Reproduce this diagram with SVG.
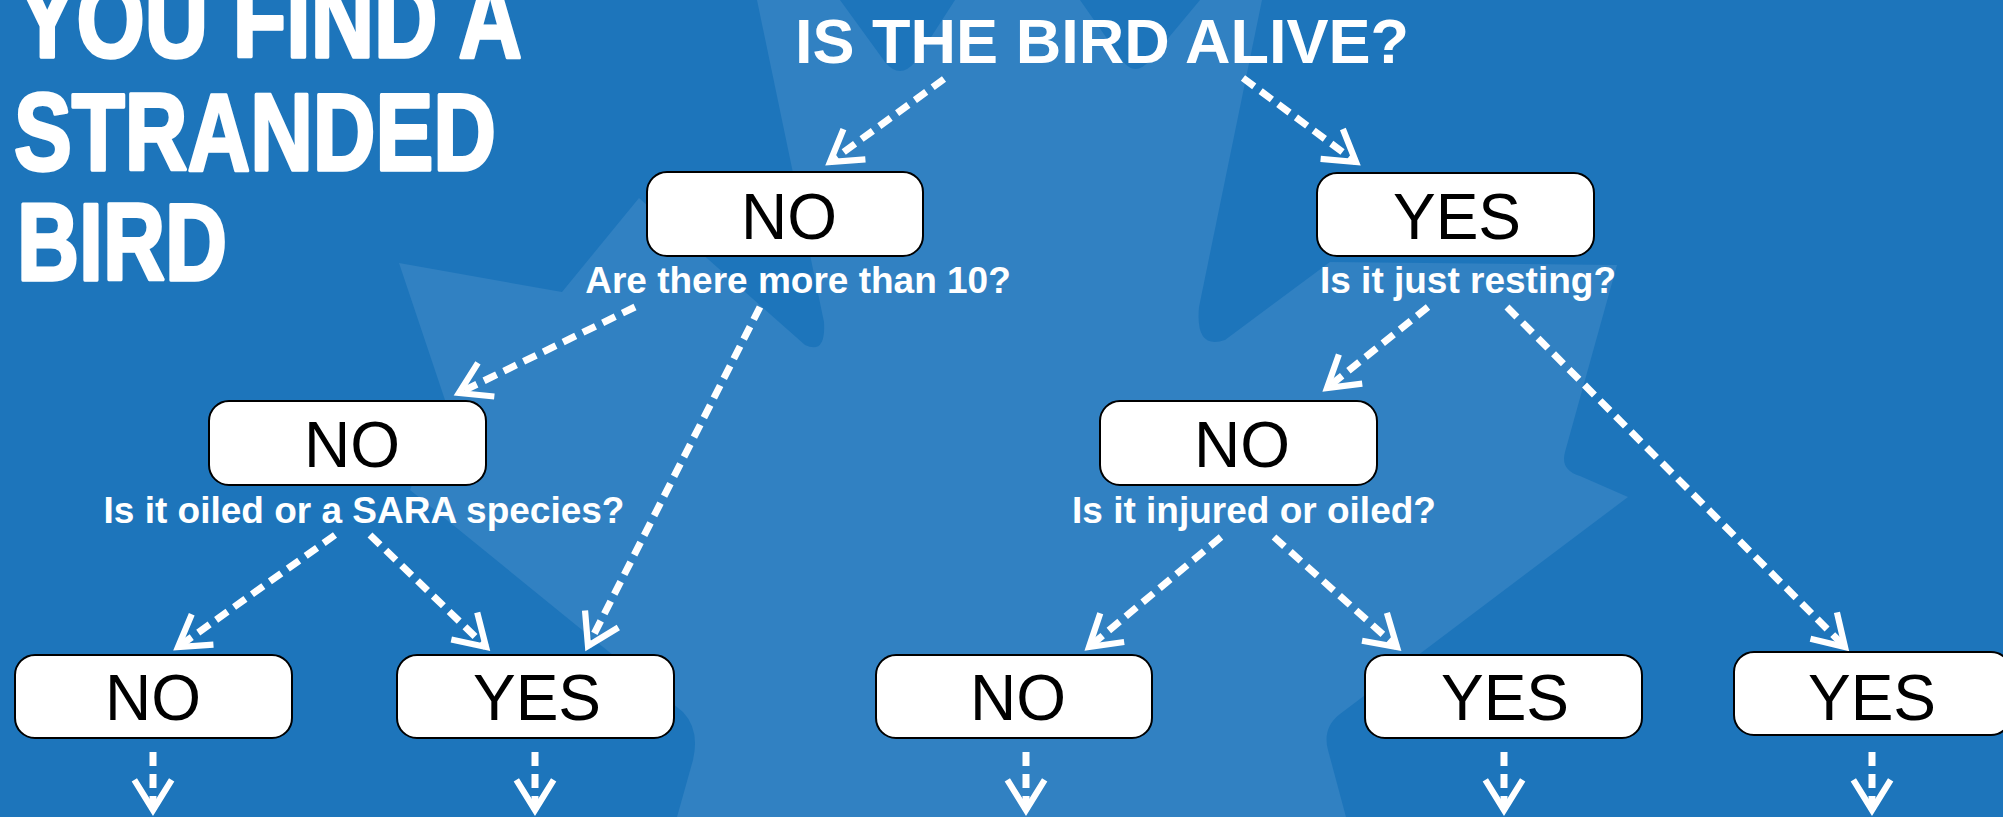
<svg xmlns="http://www.w3.org/2000/svg" width="2003" height="817" viewBox="0 0 2003 817">
<defs>
<style>
.box{fill:#fff;stroke:#000;stroke-width:2}
.bt{font-family:"Liberation Sans",Arial,sans-serif;font-size:64px;fill:#000;text-anchor:middle}
.lbl{font-family:"Liberation Sans",Arial,sans-serif;font-weight:bold;font-size:37px;fill:#fff;text-anchor:middle}
.big{font-family:"Liberation Sans Narrow","Liberation Sans",Arial,sans-serif;font-weight:bold;font-size:110px;fill:#fff;stroke:#fff;stroke-width:3.5;stroke-linejoin:round}
.dash{stroke:#fff;stroke-width:7;stroke-dasharray:14 8;fill:none}
</style>
<marker id="arr" markerUnits="userSpaceOnUse" orient="auto" refX="0" refY="0" markerWidth="80" markerHeight="80" viewBox="-45 -40 90 80" overflow="visible">
<path d="M-34,-21 L0,0 L-34,21" fill="none" stroke="#fff" stroke-width="7" stroke-dasharray="none"/>
</marker>
</defs>
<rect width="2003" height="817" fill="#1d75bb"/>
<path id="leaf" fill="#3181c2" d="M757,0 L840,0 L885,62 Q900,80 915,62 L955,0 L1080,0 L1122,60 Q1135,78 1150,60 L1200,0 L1262,0 L1199,307 Q1195,350 1225,340 L1330,262 L1617,265 L1565,452 Q1560,470 1580,476 L1628,497 L1340,714 Q1322,728 1328,750 L1346,817 L677,817 L693,760 Q700,730 683,712 L410,490 L445,400 L399,263 L562,292 L639,198 L805,345 Q826,355 824,322 Z"/>
<g id="heading">
<text class="big" x="18" y="57" textLength="504" lengthAdjust="spacingAndGlyphs">YOU FIND A</text>
<text class="big" x="14" y="170" textLength="482" lengthAdjust="spacingAndGlyphs">STRANDED</text>
<text class="big" x="17" y="280" textLength="210" lengthAdjust="spacingAndGlyphs">BIRD</text>
</g>
<g id="root">
<text x="795" y="63" textLength="614" lengthAdjust="spacingAndGlyphs" style="font-family:'Liberation Sans',Arial,sans-serif;font-weight:bold;font-size:63px;fill:#fff">IS THE BIRD ALIVE?</text>
</g>
<g id="connectors">
<line class="dash" x1="944" y1="79" x2="830" y2="162" marker-end="url(#arr)"/>
<line class="dash" x1="1243" y1="78" x2="1356" y2="162" marker-end="url(#arr)"/>
<line class="dash" x1="635" y1="307" x2="459" y2="393" marker-end="url(#arr)"/>
<line class="dash" x1="760" y1="307" x2="588" y2="646" marker-end="url(#arr)"/>
<line class="dash" x1="335" y1="535" x2="178" y2="647" marker-end="url(#arr)"/>
<line class="dash" x1="370" y1="535" x2="486" y2="647" marker-end="url(#arr)"/>
<line class="dash" x1="1428" y1="307" x2="1327" y2="388" marker-end="url(#arr)"/>
<line class="dash" x1="1507" y1="307" x2="1845" y2="647" marker-end="url(#arr)"/>
<line class="dash" x1="1221" y1="537" x2="1089" y2="647" marker-end="url(#arr)"/>
<line class="dash" x1="1274" y1="537" x2="1397" y2="647" marker-end="url(#arr)"/>
<line class="dash" x1="153" y1="752" x2="153" y2="810" marker-end="url(#arr)"/>
<line class="dash" x1="535" y1="752" x2="535" y2="810" marker-end="url(#arr)"/>
<line class="dash" x1="1026" y1="752" x2="1026" y2="810" marker-end="url(#arr)"/>
<line class="dash" x1="1504" y1="752" x2="1504" y2="810" marker-end="url(#arr)"/>
<line class="dash" x1="1872" y1="752" x2="1872" y2="810" marker-end="url(#arr)"/>
</g>
<g id="n1"><rect class="box" x="647" y="172" width="276" height="84" rx="20"/><text class="bt" x="789" y="239">NO</text><text class="lbl" x="798" y="293">Are there more than 10?</text></g>
<g id="n2"><rect class="box" x="1317" y="173" width="277" height="83" rx="20"/><text class="bt" x="1457" y="239">YES</text><text class="lbl" x="1468" y="293">Is it just resting?</text></g>
<g id="n3"><rect class="box" x="209" y="401" width="277" height="84" rx="20"/><text class="bt" x="352" y="467">NO</text><text class="lbl" x="364" y="523">Is it oiled or a SARA species?</text></g>
<g id="n4"><rect class="box" x="1100" y="401" width="277" height="84" rx="20"/><text class="bt" x="1242" y="467">NO</text><text class="lbl" x="1254" y="523">Is it injured or oiled?</text></g>
<g id="n5"><rect class="box" x="15" y="655" width="277" height="83" rx="20"/><text class="bt" x="153" y="720">NO</text></g>
<g id="n6"><rect class="box" x="397" y="655" width="277" height="83" rx="20"/><text class="bt" x="537" y="720">YES</text></g>
<g id="n7"><rect class="box" x="876" y="655" width="276" height="83" rx="20"/><text class="bt" x="1018" y="720">NO</text></g>
<g id="n8"><rect class="box" x="1365" y="655" width="277" height="83" rx="20"/><text class="bt" x="1505" y="720">YES</text></g>
<g id="n9"><rect class="box" x="1734" y="652" width="277" height="83" rx="20"/><text class="bt" x="1872" y="720">YES</text></g>
</svg>
